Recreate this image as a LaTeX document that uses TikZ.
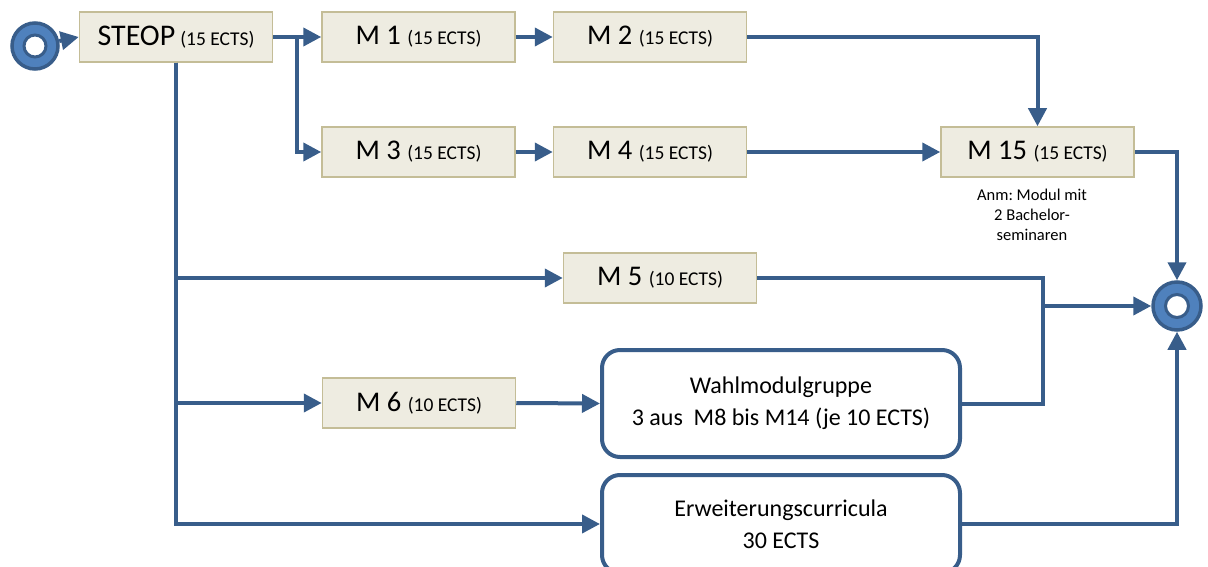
\documentclass[tikz,border=0pt]{standalone}
\usepackage{fontspec}
\setmainfont{Carlito}
\usetikzlibrary{arrows.meta}
\frenchspacing
\definecolor{lineblue}{HTML}{385D8A}
\definecolor{circblue}{HTML}{4F81BD}
\definecolor{boxfill}{HTML}{EEECE1}
\definecolor{boxline}{HTML}{C4BD97}
\newcommand\BigTxt{\fontsize{28.5}{34}\selectfont}
\newcommand\HugeTxt{\fontsize{30}{36}\selectfont}
\newcommand\SmallTxt{\fontsize{19.5}{23}\selectfont}
\newcommand\MidTxt{\fontsize{24}{32}\selectfont}
\newcommand\NoteTxt{\fontsize{16.5}{20}\selectfont}
\tikzset{
  mbox/.style={draw=boxline, fill=boxfill, line width=1.5pt, minimum width=193pt, minimum height=50pt, inner sep=0pt},
  rbox/.style={draw=lineblue, fill=white, line width=4pt, rounded corners=18pt, minimum width=358pt, inner sep=0pt, align=center, font=\MidTxt},
  conn/.style={draw=lineblue, line width=4pt, -{Triangle[length=18pt,width=18pt]}},
  wire/.style={draw=lineblue, line width=4pt},
  ring/.style={circle, draw=lineblue, fill=circblue, line width=3.5pt, inner sep=0pt},
  hole/.style={circle, draw=lineblue, fill=white, line width=3pt, inner sep=0pt, minimum size=23pt},
}
\begin{document}
\begin{tikzpicture}[x=1pt, y=-1pt]
\useasboundingbox (0,0) rectangle (1208,567);
% boxes
\node[mbox] (steop) at (176,37) {\HugeTxt STEOP\,\SmallTxt(15 ECTS)};
\node[mbox] (m1) at (418.5,37) {\BigTxt M 1 \SmallTxt(15 ECTS)};
\node[mbox] (m2) at (650,37) {\BigTxt M 2 \SmallTxt(15 ECTS)};
\node[mbox] (m3) at (418.5,152) {\BigTxt M 3 \SmallTxt(15 ECTS)};
\node[mbox] (m4) at (650,152) {\BigTxt M 4 \SmallTxt(15 ECTS)};
\node[mbox] (m15) at (1037.5,152) {\BigTxt M 15 \SmallTxt(15 ECTS)};
\node[mbox] (m5) at (660,278) {\BigTxt M 5 \SmallTxt(10 ECTS)};
\node[mbox] (m6) at (419,403) {\BigTxt M 6 \SmallTxt(10 ECTS)};
\node[rbox, minimum height=107pt] (wahl) at (781,403.5) {Wahlmodulgruppe\\3 aus\ \ M8 bis M14 (je 10 ECTS)};
\node[rbox, minimum height=98pt] (erw) at (781,524) {Erweiterungscurricula\\30 ECTS};
\node[align=center, font=\NoteTxt, inner sep=0pt] (anm) at (1032,215) {Anm: Modul mit\\2 Bachelor-\\seminaren};
% start and end
\node[ring, minimum size=46pt] (start) at (35,46) {};
\node[hole, minimum size=22pt] (starthole) at (35,46) {};
\node[ring, minimum size=48pt] (end) at (1177,306) {};
\node[hole] (endhole) at (1177,306) {};
% junctions
\coordinate (b1) at (297,37);
\coordinate (jn) at (1043,306);
% connectors
\draw[conn] (start) -- (steop.west);
\draw[conn] (steop.east) -- (m1.west);
\draw[conn] (b1) |- (m3.west);
\draw[conn] (m1.east) -- (m2.west);
\draw[conn] (m3.east) -- (m4.west);
\draw[conn] (m2.east) -| (m15.north);
\draw[conn] (m4.east) -- (m15.west);
\draw[conn] (m15.east) -| (end.north);
\draw[conn] (steop.south) |- (m5.west);
\draw[conn] (steop.south) |- (m6.west);
\draw[conn] (steop.south) |- (erw.west);
\draw[conn] (m6.east) -- (wahl.west);
\draw[wire] (m5.east) -| (jn);
\draw[wire] (wahl.east) -| (jn);
\draw[conn] (jn) -- (end.west);
\draw[conn] (erw.east) -| (end.south);
\end{tikzpicture}
\end{document}
